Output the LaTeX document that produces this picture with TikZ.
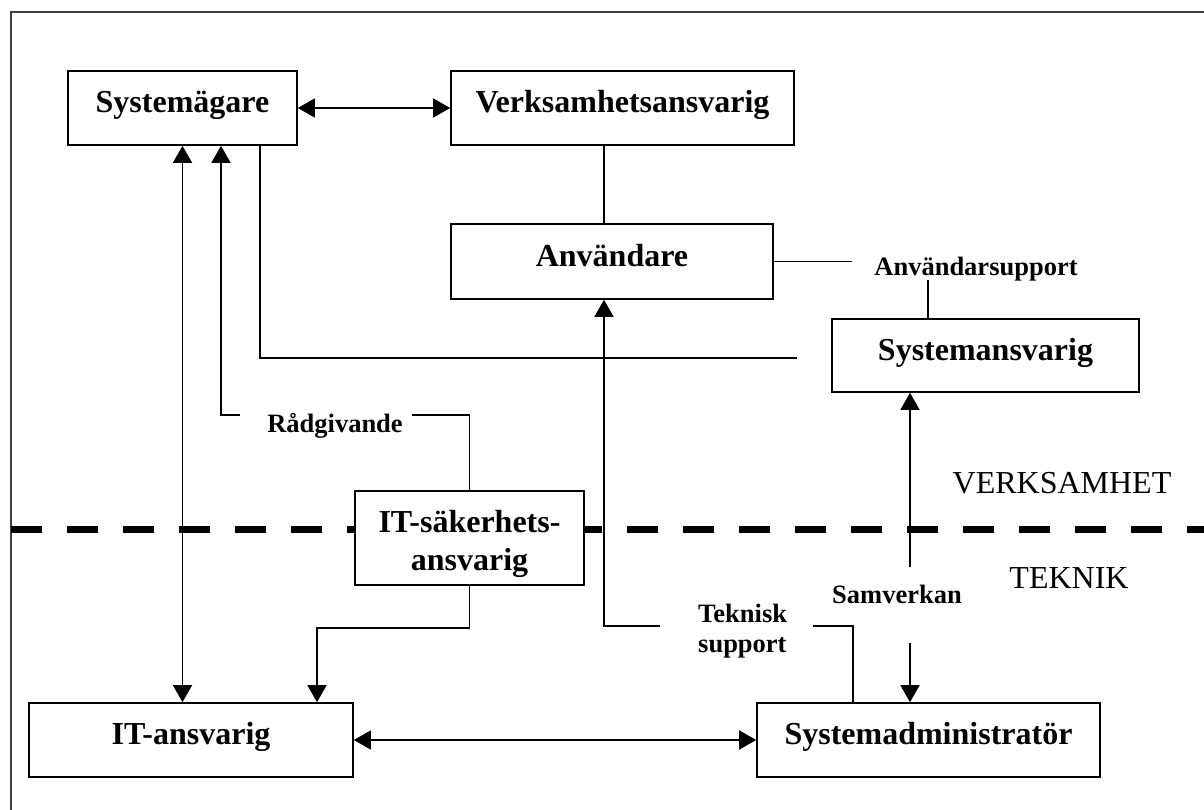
\documentclass[tikz,border=0pt]{standalone}
\usepackage{fontspec}
\setmainfont{Liberation Serif}
\usetikzlibrary{arrows.meta}
\tikzset{
  box/.style={draw, line width=1.6pt, fill=white, inner sep=0pt, minimum height=74pt,
    font=\fontsize{32}{36}\selectfont\bfseries, text height=22pt, text depth=13pt},
  lbl/.style={font=\fontsize{26.5}{30}\selectfont\bfseries, inner sep=0pt},
  zone/.style={font=\fontsize{32}{36}\selectfont, inner sep=0pt},
  conn/.style={line width=1.4pt},
  >={Triangle[length=17pt,width=19pt]}
}
\begin{document}
\begin{tikzpicture}[x=1pt,y=-1pt]
\useasboundingbox (0,0) rectangle (1204,810);
% frame (only left and top edges visible)
\draw[line width=2pt, black!75] (11,810) -- (11,12) -- (1204,12);
% boundary line
\draw[line width=7pt, dash pattern=on 31pt off 25pt] (11,529) -- (1204,529);
\node[zone, anchor=base] (verksamhet) at (1062,493) {VERKSAMHET};
\node[zone, anchor=base] (teknik) at (1069,588) {TEKNIK};

% boxes
\node[box, minimum width=229pt] (sysag) at (182.5,108) {Systemägare};
\node[box, minimum width=343pt] (verk) at (622.5,108) {Verksamhetsansvarig};
\node[box, minimum width=322pt, minimum height=75pt] (anv) at (612,261.5) {Användare};
\node[box, minimum width=307pt, minimum height=73pt] (sysansv) at (985.5,355.5) {Systemansvarig};
\node[draw, line width=1.6pt, fill=white, inner sep=0pt, minimum width=229pt, minimum height=94pt,
      align=center, font=\fontsize{32}{38}\selectfont\bfseries, text height=71pt, text depth=7pt]
      (itsak) at (469.5,538) {IT-säkerhets-\\ansvarig};
\node[box, minimum width=324pt] (itansv) at (191,740) {IT-ansvarig};
\node[box, minimum width=343pt] (sysadm) at (928.5,740) {Systemadministratör};

% labels
\node[lbl, anchor=base] (radg) at (335,432) {Rådgivande};
\node[lbl, anchor=base] (anvsup) at (976,276) {Användarsupport};
\node[lbl, anchor=base west, align=left] (teksup) at (698,652) {Teknisk\\support};
\node[lbl, anchor=base] (samv) at (897,603) {Samverkan};

% free ends
\coordinate (rg1) at (412,415);
\coordinate (rg2) at (240,415);
\coordinate (sa) at (797,358);
\coordinate (as1) at (852,261.5);
\coordinate (as2) at (928,280);
\coordinate (ts1) at (660,626);
\coordinate (ts2) at (813,626);
\coordinate (sv1) at (910,567);
\coordinate (sv2) at (910,643);

% connectors
\draw[conn, <->] (sysag.east) -- (verk.west);
\draw[conn, <->] (sysag.south) -- (sysag.south |- itansv.north);
\draw[conn] (itsak.north) |- (rg1);
\draw[conn, ->] (rg2) -| ([xshift=38.5pt]sysag.south);
\draw[conn] ([xshift=77.5pt]sysag.south) |- (sa);
\draw[conn] ([xshift=-8pt]anv.north) -- ([xshift=-8pt]anv.north |- verk.south);
\draw[conn] (anv.east) -- (as1);
\draw[conn] (as2) -- (as2 |- sysansv.north);
\draw[conn, ->] (ts1) -| ([xshift=-8pt]anv.south);
\draw[conn] (ts2) -| ([xshift=-75.5pt]sysadm.north);
\draw[conn, ->] (sv1) -- (sv1 |- sysansv.south);
\draw[conn, ->] (sv2) -- (sv2 |- sysadm.north);
\draw[conn, ->] (itsak.south) -- ++(0,42) -| ([xshift=126pt]itansv.north);
\draw[conn, <->] (itansv.east) -- (sysadm.west);
\end{tikzpicture}
\end{document}
